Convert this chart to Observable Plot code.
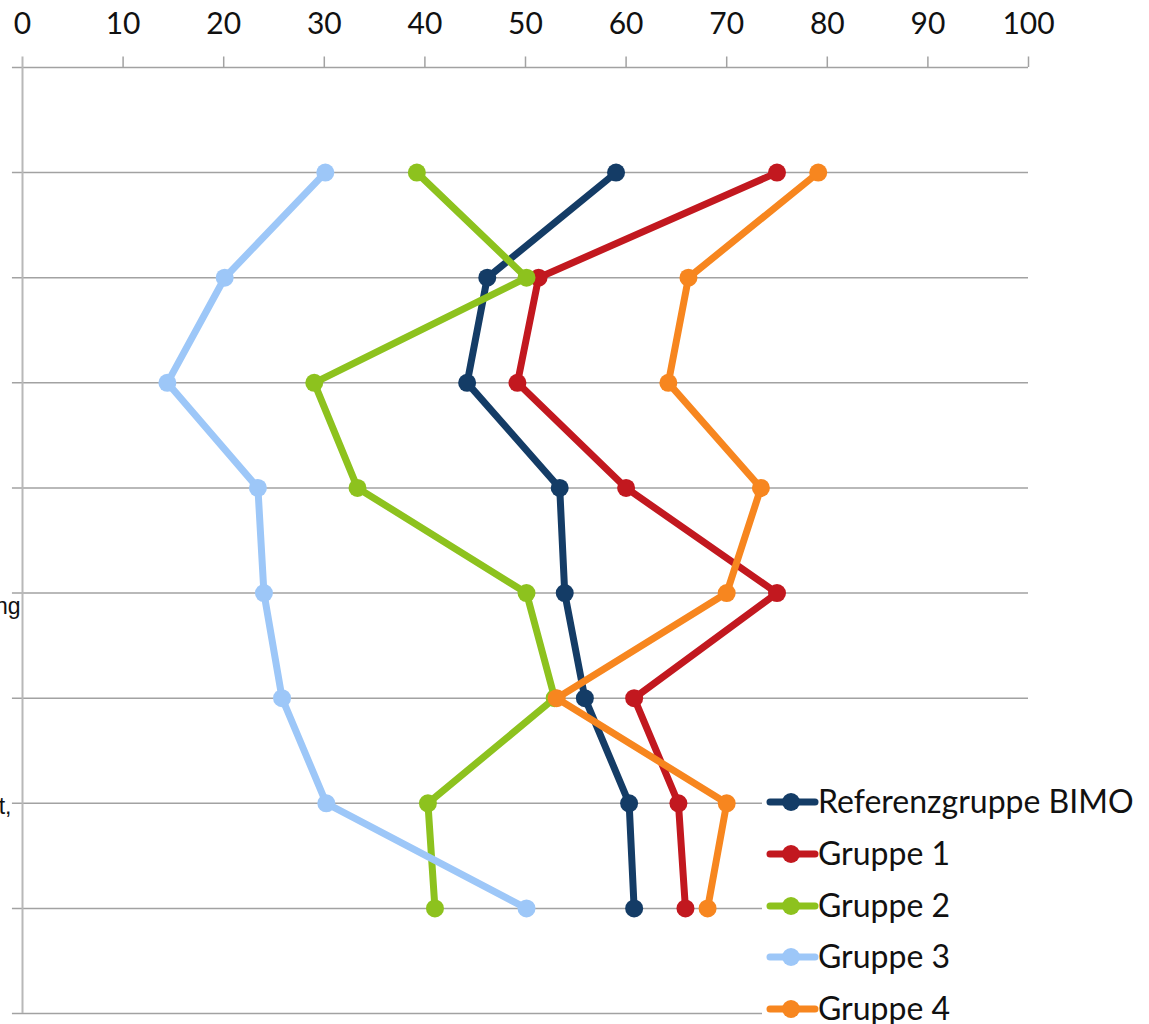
<!DOCTYPE html>
<html>
<head>
<meta charset="utf-8">
<script src="https://cdn.jsdelivr.net/npm/d3@7"></script>
<script src="https://cdn.jsdelivr.net/npm/@observablehq/plot@0.6"></script>
<style>
  body { margin: 0; background: #fff; }
  #wrap { position: relative; width: 1149px; height: 1024px; overflow: hidden; }
  #legend { position: absolute; left: 0; top: 0; }
</style>
</head>
<body>
<div id="wrap"></div>
<script>
// Category rows (1 = top row) and the tail ends of their labels that remain on the page
const rows = [1, 2, 3, 4, 5, 6, 7, 8];
const categoryLabels = ["", "", "", "", "ng", "", "t,", ""];

// x axis ticks (percent)
const xTicks = [0, 10, 20, 30, 40, 50, 60, 70, 80, 90, 100];

// Series
const groups = ["Referenzgruppe BIMO", "Gruppe 1", "Gruppe 2", "Gruppe 3", "Gruppe 4"];
const colors = ["#143c66", "#c2181f", "#8dc21e", "#9dc7f8", "#f7861f"];
const referenzBimo = [59.0, 46.2, 44.2, 53.4, 53.9, 55.9, 60.3, 60.8];
const gruppe1 = [75.0, 51.3, 49.2, 60.0, 75.0, 60.8, 65.2, 65.9];
const gruppe2 = [39.2, 50.1, 29.0, 33.3, 50.1, 52.9, 40.3, 41.0];
const gruppe3 = [30.1, 20.1, 14.4, 23.4, 24.0, 25.8, 30.2, 50.1];
const gruppe4 = [79.1, 66.2, 64.2, 73.4, 70.0, 53.1, 70.0, 68.1];

const seriesValues = [referenzBimo, gruppe1, gruppe2, gruppe3, gruppe4];
const table = groups.flatMap((g, i) => seriesValues[i].map((v, j) => ({group: g, row: rows[j], value: v})));
const labelTable = rows.map((r, j) => ({row: r, label: categoryLabels[j]})).filter(d => d.label);

// Horizontal grid rows: the top edge, every category row, and the bottom edge
const gridRows = [0, ...rows, 9];

// Each series draws its line and then its dots, so later groups sit on top
const seriesMarks = groups.flatMap(g => {
  const data = table.filter(d => d.group === g);
  return [
    Plot.line(data, {x: "value", y: "row", stroke: "group", strokeWidth: 7, strokeLinejoin: "round", strokeLinecap: "round"}),
    Plot.dot(data, {x: "value", y: "row", r: 9, fill: "group", stroke: "none"})
  ];
});

const labelFont = "'Liberation Sans', Arial, sans-serif";

const chart = Plot.plot({
  width: 1149,
  height: 1024,
  marginLeft: 22,
  marginRight: 121,
  marginTop: 67,
  marginBottom: 11,
  style: {fontFamily: "Lato, 'Open Sans', sans-serif", background: "#fff", overflow: "visible"},
  x: {domain: [0, 100], label: null},
  y: {domain: [0, 9], reverse: true, axis: null},
  color: {domain: groups, range: colors},
  marks: [
    Plot.ruleY(gridRows, {y: d => d, x1: -1, x2: 100, stroke: "#a2a2a2", strokeWidth: 1.5}),
    Plot.ruleX([0], {y1: 0, y2: 9, stroke: "#b8b8b8", strokeWidth: 2}),
    Plot.ruleX(xTicks.slice(1), {x: d => d, y1: -0.1, y2: 0, stroke: "#a2a2a2", strokeWidth: 1.5}),
    Plot.ruleX([0], {y1: -0.1, y2: 0, stroke: "#b8b8b8", strokeWidth: 2}),
    Plot.axisX({anchor: "top", label: null, ticks: xTicks, tickSize: 0, tickPadding: 34, fontSize: 30, fill: "#111", stroke: "none"}),
    Plot.text(labelTable.filter(d => d.label === "ng"), {x: 0, y: "row", text: "label", textAnchor: "end", dx: -2, dy: 14,
      fontSize: 23, fontFamily: labelFont, fill: "#111"}),
    Plot.text(labelTable.filter(d => d.label === "t,"), {x: 0, y: "row", text: "label", textAnchor: "end", dx: -11, dy: 3,
      fontSize: 23, fontFamily: labelFont, fill: "#111"}),
    ...seriesMarks
  ]
});

const wrap = document.getElementById("wrap");
wrap.appendChild(chart);

// Legend box on the lower right, laid over the grid lines
const ns = "http://www.w3.org/2000/svg";
const legend = document.createElementNS(ns, "svg");
legend.setAttribute("id", "legend");
legend.setAttribute("width", 1149);
legend.setAttribute("height", 1024);
const bg = document.createElementNS(ns, "rect");
bg.setAttribute("x", 762); bg.setAttribute("y", 778);
bg.setAttribute("width", 387); bg.setAttribute("height", 246);
bg.setAttribute("fill", "#fff");
legend.appendChild(bg);
const centers = [802, 854, 906, 957, 1009];
groups.forEach((g, i) => {
  const cy = centers[i];
  const line = document.createElementNS(ns, "line");
  line.setAttribute("x1", 770); line.setAttribute("x2", 815);
  line.setAttribute("y1", cy); line.setAttribute("y2", cy);
  line.setAttribute("stroke", colors[i]); line.setAttribute("stroke-width", 7);
  line.setAttribute("stroke-linecap", "round");
  legend.appendChild(line);
  const dot = document.createElementNS(ns, "circle");
  dot.setAttribute("cx", 791); dot.setAttribute("cy", cy); dot.setAttribute("r", 9);
  dot.setAttribute("fill", colors[i]);
  legend.appendChild(dot);
  const t = document.createElementNS(ns, "text");
  t.setAttribute("x", 818); t.setAttribute("y", cy + 11);
  t.setAttribute("font-family", "Lato, 'Open Sans', sans-serif");
  t.setAttribute("font-size", 32);
  t.setAttribute("fill", "#111");
  t.textContent = g;
  legend.appendChild(t);
});
wrap.appendChild(legend);
</script>
</body>
</html>
